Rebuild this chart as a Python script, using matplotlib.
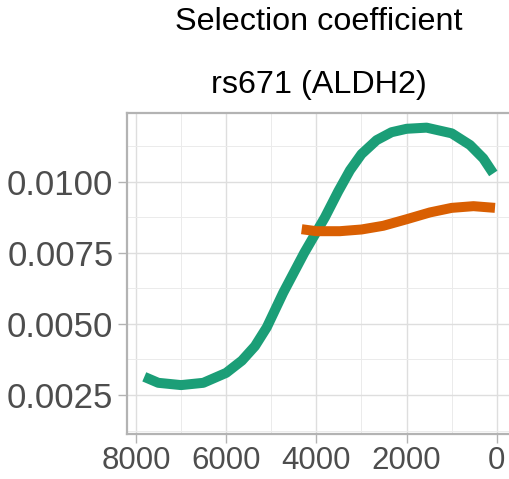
import numpy as np
import matplotlib.pyplot as plt
from matplotlib.ticker import MultipleLocator

plt.rcParams['font.family'] = ['Liberation Sans', 'DejaVu Sans']

# years before present, selection coefficient
green_x = [7816, 7506, 7000, 6508, 6000, 5652, 5362, 5100, 4735, 4269, 3810,
           3516, 3256, 3000, 2665, 2333, 2000, 1557, 1000, 594, 300, 78]
green_y = [0.00314, 0.00293, 0.00285, 0.00293, 0.00328, 0.00371, 0.00422,
           0.00488, 0.00610, 0.00750, 0.00875, 0.00966, 0.01040, 0.01097,
           0.01146, 0.01174, 0.01186, 0.01190, 0.01170, 0.01129, 0.01082,
           0.01029]

orange_x = [4326, 4000, 3480, 3000, 2518, 2000, 1482, 1000, 517, 40]
orange_y = [0.00833, 0.00826, 0.00826, 0.00832, 0.00845, 0.00868, 0.00892,
            0.00908, 0.00914, 0.00908]

xticks = [8000, 6000, 4000, 2000, 0]
yticks = [0.0025, 0.0050, 0.0075, 0.0100]
ytick_labels = ['0.0025', '0.0050', '0.0075', '0.0100']

fig = plt.figure(figsize=(5.1, 4.79), dpi=100)
ax = fig.add_axes([0.2496, 0.0939, 0.759, 0.6696])

ax.plot(green_x, green_y, color='#1b9e77', lw=7.2, solid_capstyle='butt', solid_joinstyle='round', zorder=3)
ax.plot(orange_x, orange_y, color='#d95f02', lw=7.2, solid_capstyle='butt', solid_joinstyle='round', zorder=3)

ax.set_xlim(8193, -390)
ax.set_ylim(0.00113, 0.012405)

ax.set_xticks(xticks)
ax.set_xticklabels([str(t) for t in xticks])
ax.set_yticks(yticks)
ax.set_yticklabels(ytick_labels)
ax.xaxis.set_minor_locator(MultipleLocator(1000))
ax.yaxis.set_minor_locator(MultipleLocator(0.00125))

ax.grid(which='major', color='#dedede', lw=1.0, zorder=0)
ax.grid(which='minor', color='#ebebeb', lw=0.7, zorder=0)
ax.set_axisbelow(True)

for s in ax.spines.values():
    s.set_color('#b3b3b3')
    s.set_linewidth(1.6)

ax.tick_params(which='major', length=6.5, width=1.0, color='#b3b3b3', labelcolor='#4d4d4d')
ax.tick_params(axis='y', labelsize=25, pad=3.5)
ax.tick_params(axis='x', labelsize=22.5, pad=2)
ax.tick_params(which='minor', length=0)

fig.text(0.6245, 1 - 22 / 479, 'Selection coefficient', ha='center', va='center', fontsize=23.3, color='black')
fig.text(0.6245, 1 - 85 / 479, 'rs671 (ALDH2)', ha='center', va='center', fontsize=23.3, color='black')

fig.savefig('out.png', dpi=100)
